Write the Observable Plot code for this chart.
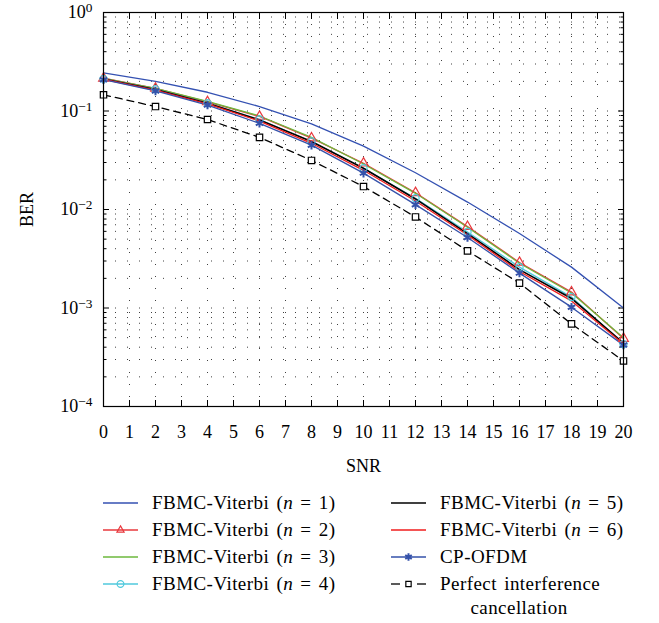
<!DOCTYPE html>
<html>
<head>
<meta charset="utf-8">
<script src="https://cdn.jsdelivr.net/npm/d3@7"></script>
<script src="https://cdn.jsdelivr.net/npm/@observablehq/plot@0.6"></script>
<style>
  html, body { margin: 0; padding: 0; background: #fff; }
  #wrap { position: relative; width: 659px; height: 623px; font-family: "Liberation Serif", "Times New Roman", serif; }
  #legend { position: absolute; left: 0; top: 480px; }
</style>
</head>
<body>
<div id="wrap"><div id="chart"></div><svg id="legend" width="659" height="143"></svg></div>
<script>
// ---- data ----
const snr = [0, 2, 4, 6, 8, 10, 12, 14, 16, 18, 20];
const berN1 = [0.244, 0.200, 0.155, 0.111, 0.074, 0.044, 0.0236, 0.0119, 0.0057, 0.0026, 0.00100];
const berN2 = [0.215, 0.170, 0.124, 0.088, 0.053, 0.0295, 0.0148, 0.0067, 0.0029, 0.00145, 0.00049];
const berN3 = [0.214, 0.170, 0.125, 0.089, 0.054, 0.0290, 0.0146, 0.0066, 0.00285, 0.00142, 0.00050];
const berN4 = [0.212, 0.166, 0.120, 0.082, 0.049, 0.0262, 0.0130, 0.0059, 0.0026, 0.00129, 0.00043];
const berN5 = [0.211, 0.165, 0.120, 0.081, 0.049, 0.0262, 0.0128, 0.0057, 0.00245, 0.00125, 0.00044];
const berN6 = [0.210, 0.163, 0.118, 0.079, 0.047, 0.0250, 0.0122, 0.0055, 0.00235, 0.00118, 0.00043];
const berCP = [0.208, 0.160, 0.115, 0.075, 0.045, 0.0234, 0.0112, 0.0052, 0.00226, 0.00102, 0.00042];
const berPerfect = [0.146, 0.111, 0.082, 0.054, 0.0315, 0.0171, 0.0084, 0.0038, 0.00179, 0.00069, 0.00029];

const seriesNames = ["FBMC-Viterbi (n = 1)", "FBMC-Viterbi (n = 2)", "FBMC-Viterbi (n = 3)", "FBMC-Viterbi (n = 4)",
                     "FBMC-Viterbi (n = 5)", "FBMC-Viterbi (n = 6)", "CP-OFDM", "Perfect interference cancellation"];
const seriesValues = [berN1, berN2, berN3, berN4, berN5, berN6, berCP, berPerfect];
const seriesColors = ["#3451b2", "#e8383d", "#6cb83c", "#4fc9dc", "#000000", "#f01c1c", "#3552aa", "#000000"];
const seriesSymbols = [null, "triangle", null, "circle", null, null, "asterisk", "square"];
const xTicks = d3.range(0, 21);
const yMajor = [1e-4, 1e-3, 1e-2, 1e-1, 1];
const yExp = ["−4", "−3", "−2", "−1", "0"];

// ---- build table ----
const rows = [];
seriesValues.forEach((vals, i) => vals.forEach((v, j) => rows.push({series: seriesNames[i], idx: i, snr: snr[j], ber: v})));
const yMinor = [];
for (let e = -4; e < 0; e++) for (let m = 2; m <= 9; m++) yMinor.push(m * Math.pow(10, e));
const yGrid = yMajor.concat(yMinor);
const blank = () => "";

const marks = [
  Plot.gridX(xTicks, {stroke: "#000", strokeOpacity: 0.75, strokeDasharray: "1,11"}),
  Plot.gridY(yGrid, {stroke: "#000", strokeOpacity: 0.75, strokeDasharray: "1,11"}),
  // inward ticks
  Plot.axisX(xTicks, {anchor: "bottom", tickSize: -6, tickFormat: blank, label: null}),
  Plot.axisX(xTicks, {anchor: "top", tickSize: -6, tickFormat: blank, label: null}),
  Plot.axisY(yMajor, {anchor: "left", tickSize: -6, tickFormat: blank, label: null}),
  Plot.axisY(yMinor, {anchor: "left", tickSize: -3.5, tickFormat: blank, label: null}),
  Plot.axisY(yMajor, {anchor: "right", tickSize: -6, tickFormat: blank, label: null}),
  Plot.axisY(yMinor, {anchor: "right", tickSize: -3.5, tickFormat: blank, label: null}),
  // labels
  Plot.axisX(xTicks, {anchor: "bottom", tickSize: 0, tickPadding: 19, label: "SNR", labelAnchor: "center", labelOffset: 65, labelArrow: "none"}),
  Plot.axisY(yMajor, {anchor: "left", tickSize: 0, tickPadding: 11, tickFormat: d => "E" + yExp[yMajor.indexOf(d)], label: "BER", labelAnchor: "center", labelOffset: 83, labelArrow: "none"}),
];
seriesNames.forEach((name, i) => {
  const data = rows.filter(r => r.idx === i);
  marks.push(Plot.line(data, {x: "snr", y: "ber", stroke: seriesColors[i], strokeWidth: i === 4 ? 1.6 : 1.3,
    strokeDasharray: i === 7 ? "7,5" : null}));
});
seriesNames.forEach((name, i) => {
  if (!seriesSymbols[i]) return;
  const data = rows.filter(r => r.idx === i);
  marks.push(Plot.dot(data, {x: "snr", y: "ber", symbol: () => seriesSymbols[i], stroke: seriesColors[i],
    fill: i === 7 ? "#fff" : "none", r: i === 6 ? 4 : 3.6, strokeWidth: i === 6 ? 2 : 1.2}));
});
marks.push(Plot.frame({stroke: "#000", strokeWidth: 1.2}));

const chart = Plot.plot({
  width: 659, height: 480,
  marginLeft: 103, marginRight: 36, marginTop: 12, marginBottom: 74,
  style: {fontFamily: "Liberation Serif", fontSize: "18px", color: "#000", background: "#fff"},
  x: {domain: [0, 20]},
  y: {type: "log", domain: [1e-4, 1]},
  marks
});
// superscript exponents on y tick labels
d3.select(chart).selectAll('g[aria-label="y-axis tick label"] text').each(function () {
  const t = d3.select(this);
  const s = t.text();
  if (!s.startsWith("E")) return;
  const ex = s.slice(1);
  t.text("");
  t.append("tspan").text("10");
  t.append("tspan").attr("dy", "-0.45em").attr("font-size", "0.74em").text(ex);
});
document.getElementById("chart").appendChild(chart);

// ---- legend ----
const lg = d3.select("#legend");
const top0 = 480;
const legendPos = [
  {x: 103, y: 503}, {x: 103, y: 530}, {x: 103, y: 557}, {x: 103, y: 584},
  {x: 391, y: 503}, {x: 391, y: 530}, {x: 391, y: 557}, {x: 391, y: 584}
];
const labelParts = [
  ["FBMC-Viterbi (", "n", " = 1)"], ["FBMC-Viterbi (", "n", " = 2)"], ["FBMC-Viterbi (", "n", " = 3)"], ["FBMC-Viterbi (", "n", " = 4)"],
  ["FBMC-Viterbi (", "n", " = 5)"], ["FBMC-Viterbi (", "n", " = 6)"], ["CP-OFDM"], ["Perfect interference"]
];
legendPos.forEach((p, i) => {
  const y = p.y - top0;
  const x1 = p.x, x2 = p.x + 35, xm = p.x + 17.5;
  if (i === 7) {
    lg.append("line").attr("x1", x1).attr("x2", x1 + 9).attr("y1", y).attr("y2", y).attr("stroke", "#000").attr("stroke-width", 1.3);
    lg.append("line").attr("x1", x2 - 9).attr("x2", x2).attr("y1", y).attr("y2", y).attr("stroke", "#000").attr("stroke-width", 1.3);
  } else {
    lg.append("line").attr("x1", x1).attr("x2", x2).attr("y1", y).attr("y2", y).attr("stroke", seriesColors[i]).attr("stroke-width", 1.5);
  }
  const sym = seriesSymbols[i];
  if (sym) {
    const symObj = {triangle: d3.symbolTriangle2, circle: d3.symbolCircle, asterisk: d3.symbolAsterisk, square: d3.symbolSquare2}[sym];
    lg.append("path").attr("d", d3.symbol(symObj, sym === "asterisk" ? 40 : 36)())
      .attr("transform", `translate(${xm},${y})`)
      .attr("fill", i === 7 ? "#fff" : "none").attr("stroke", seriesColors[i]).attr("stroke-width", sym === "asterisk" ? 2 : 1.2);
  }
  const tx = p.x + 49;
  const t = lg.append("text").attr("x", tx).attr("y", y + 6).attr("font-family", "Liberation Serif").attr("font-size", "19px")
    .attr("letter-spacing", "0.45px").attr("word-spacing", "2px").attr("fill", "#000");
  const parts = labelParts[i];
  t.append("tspan").text(parts[0]);
  if (parts.length > 1) {
    t.append("tspan").attr("font-style", "italic").text(parts[1]);
    t.append("tspan").text(parts[2]);
  }
});
lg.append("text").attr("x", 519).attr("y", 608 - top0 + 6).attr("text-anchor", "middle")
  .attr("font-family", "Liberation Serif").attr("font-size", "19px").attr("letter-spacing", "0.45px").text("cancellation");
</script>
</body>
</html>
